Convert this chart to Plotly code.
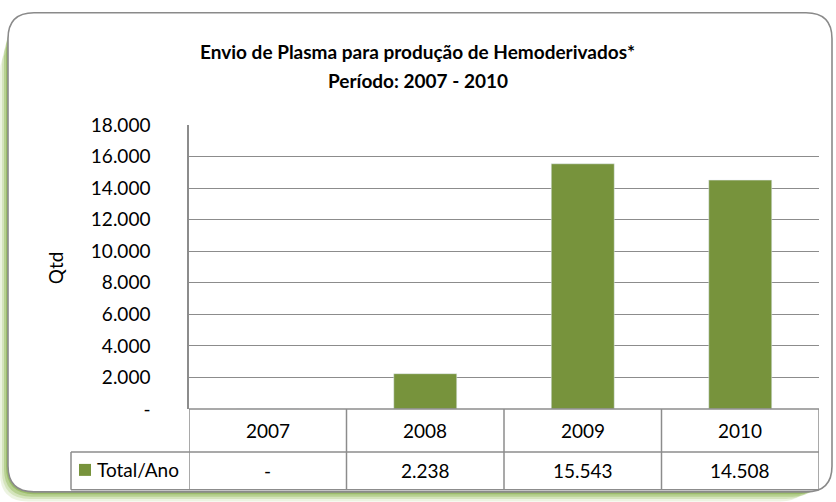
import plotly.graph_objects as go

years = ["2007", "2008", "2009", "2010"]
totals = [0, 2238, 15543, 14508]
series_name = "Total/Ano"
y_ticks = [0, 2000, 4000, 6000, 8000, 10000, 12000, 14000, 16000, 18000]
title_line1 = "Envio de Plasma para produção de Hemoderivados*"
title_line2 = "Período: 2007 - 2010"
y_title = "Qtd"


def fmt(n):
    return "-" if n == 0 else f"{n:,}".replace(",", ".")


W, H = 836, 502
L, R, T, B = 189, 819, 124.5, 409  # plot area in pixels
FONT = "Lato, Calibri, Carlito, sans-serif"
GREEN = "#77933C"
GRID = "#8c8c8c"
FS = 19


def px(X):
    return (X - L) / (R - L)


def py(Y):
    return (B - Y) / (B - T)


fig = go.Figure()
fig.add_trace(go.Bar(x=list(range(len(years))), y=totals, marker_color=GREEN, width=0.4,
                     name=series_name, showlegend=False))

shapes = []


def rounded(x0, y0, x1, y1, r):
    rx = r / (R - L)
    ry = r / (B - T)
    X0, X1 = px(x0), px(x1)
    Y0, Y1 = py(y0), py(y1)
    return (f"M {X0+rx},{Y0} L {X1-rx},{Y0} Q {X1},{Y0} {X1},{Y0-ry} "
            f"L {X1},{Y1+ry} Q {X1},{Y1} {X1-rx},{Y1} L {X0+rx},{Y1} "
            f"Q {X0},{Y1} {X0},{Y1+ry} L {X0},{Y0-ry} Q {X0},{Y0} {X0+rx},{Y0} Z")


# green shadow (left and bottom-left)
for off, col in [(8, "rgba(200,220,170,0.35)"), (6, "rgba(170,200,120,0.35)"),
                 (4, "rgba(140,180,80,0.4)"), (2, "rgba(120,160,60,0.45)")]:
    shapes.append(dict(type="path", xref="paper", yref="paper", layer="below",
                       path=rounded(8 - off, 12 + off * 4, 832 - off * 3, 492 + off * 1.2, 28),
                       line=dict(width=0), fillcolor=col))
# chart border
shapes.append(dict(type="path", xref="paper", yref="paper", layer="below",
                   path=rounded(8, 12, 832, 492, 26),
                   line=dict(color="#8a8a8a", width=1.6), fillcolor="white"))

# data table lines
row_mid = 452
row_bot = 490
leg_left = 71
line = dict(color=GRID, width=1.5)
shapes.append(dict(type="line", xref="paper", yref="paper", x0=px(L), x1=px(R), y0=py(B), y1=py(B), line=line))
shapes.append(dict(type="line", xref="paper", yref="paper", x0=px(leg_left), x1=px(R), y0=py(row_mid), y1=py(row_mid), line=line))
shapes.append(dict(type="line", xref="paper", yref="paper", x0=px(leg_left), x1=px(R), y0=py(row_bot), y1=py(row_bot), line=line))
shapes.append(dict(type="line", xref="paper", yref="paper", x0=px(leg_left), x1=px(leg_left), y0=py(row_mid), y1=py(row_bot), line=line))
for i in range(len(years) + 1):
    xv = i - 0.5
    shapes.append(dict(type="line", xref="x", yref="paper", x0=xv, x1=xv, y0=py(B), y1=py(row_bot), line=line))
# legend key
shapes.append(dict(type="rect", xref="paper", yref="paper", x0=px(79), x1=px(91), y0=py(476), y1=py(464),
                   fillcolor=GREEN, line=dict(width=0)))

ann = []
ann.append(dict(text=f"<b>{title_line1}</b>", xref="paper", yref="paper", x=px(417), y=py(51),
                showarrow=False, font=dict(size=19, color="black", family=FONT), xanchor="center", yanchor="middle"))
ann.append(dict(text=f"<b>{title_line2}</b>", xref="paper", yref="paper", x=px(418), y=py(80),
                showarrow=False, font=dict(size=19, color="black", family=FONT), xanchor="center", yanchor="middle"))
ann.append(dict(text=y_title, xref="paper", yref="paper", x=px(55), y=py(268), textangle=-90,
                showarrow=False, font=dict(size=FS, color="black", family=FONT), xanchor="center", yanchor="middle"))
for i, (yr, v) in enumerate(zip(years, totals)):
    ann.append(dict(text=yr, xref="x", yref="paper", x=i, y=py(431), showarrow=False,
                    font=dict(size=FS, color="black", family=FONT), xanchor="center", yanchor="middle"))
    ann.append(dict(text=fmt(v), xref="x", yref="paper", x=i, y=py(471), showarrow=False,
                    font=dict(size=FS, color="black", family=FONT), xanchor="center", yanchor="middle"))
ann.append(dict(text=series_name, xref="paper", yref="paper", x=px(95), y=py(470), showarrow=False,
                font=dict(size=FS, color="black", family=FONT), xanchor="left", yanchor="middle"))

fig.update_layout(
    width=W, height=H,
    margin=dict(l=L, r=W - R, t=T, b=H - B, pad=0, autoexpand=False),
    paper_bgcolor="white", plot_bgcolor="white",
    shapes=shapes, annotations=ann,
    font=dict(family=FONT, size=FS, color="black"),
    xaxis=dict(range=[-0.5, 3.5], showticklabels=False, showgrid=False, zeroline=False,
               showline=False, ticks=""),
    yaxis=dict(range=[0, 18000], tickvals=y_ticks, ticktext=[fmt(t) for t in y_ticks],
               showgrid=True, gridcolor=GRID, gridwidth=1.4, zeroline=False,
               showline=True, linecolor=GRID, linewidth=1.5, ticks="", ticklabelstandoff=33,
               tickfont=dict(size=FS, family=FONT, color="black")),
)

fig.write_html("out.html", config={"displayModeBar": False},
               post_script="document.body.style.margin='0';")
